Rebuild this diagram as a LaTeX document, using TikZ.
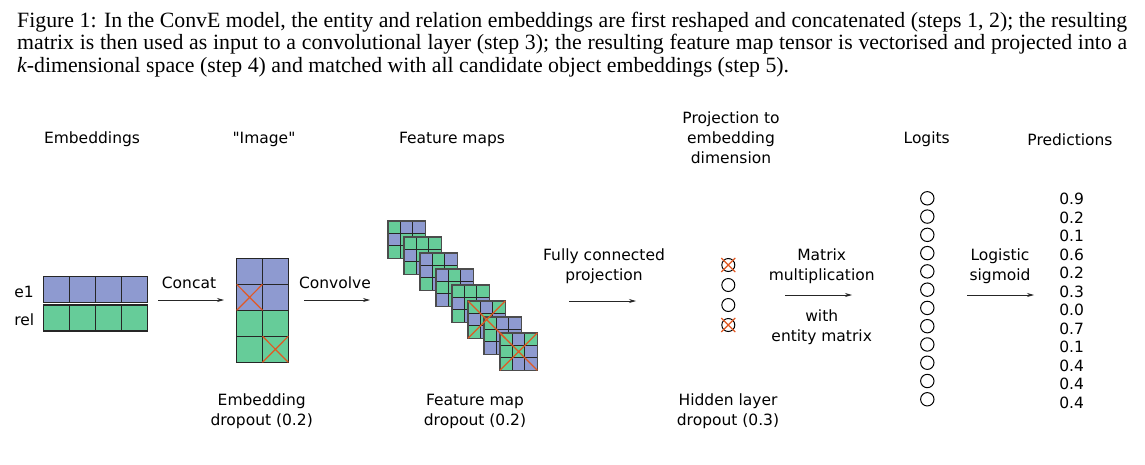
\documentclass[tikz,border=0pt]{standalone}
\usepackage{fontspec}
\setmainfont{DejaVu Sans}[Ligatures=TeXOff]
\newfontfamily\capfont{Liberation Serif}
\usetikzlibrary{arrows.meta}
\definecolor{eblue}{RGB}{142,154,208}
\definecolor{egreen}{RGB}{102,204,153}
\definecolor{dropx}{RGB}{226,88,34}
\begin{document}
\begin{tikzpicture}[x=1pt,y=-1pt,
  lbl/.style={font=\fontsize{15.5}{20}\selectfont, inner sep=0pt, align=center, anchor=base},
  captxt/.style={font=\capfont\fontsize{21.8}{22}\selectfont, inner sep=0pt, anchor=base west},
  flow/.style={draw=black!85, line width=0.7pt, -{Stealth[length=7pt,width=4pt]}},
  cellb/.style={draw=black!85, line width=1.1pt, fill=eblue},
  cellg/.style={draw=black!85, line width=1.1pt, fill=egreen},
  xmark/.style={draw=dropx, line width=1.2pt},
  unit/.style={circle, draw=black, line width=1pt, minimum size=13pt, inner sep=0pt},
]
\fill[white] (0,0) rectangle (1145,464);
\useasboundingbox (0,0) rectangle (1145,464);

% caption
\node[captxt] (c1) at (17,27) {\makebox[1110pt][s]{Figure 1: In the ConvE model, the entity and relation embeddings are first reshaped and concatenated (steps 1, 2); the resulting}};
\node[captxt] (c2) at (17,49.5) {\makebox[1110pt][s]{matrix is then used as input to a convolutional layer (step 3); the resulting feature map tensor is vectorised and projected into a}};
\node[captxt] (c3) at (17,72) {{\itshape k}-dimensional space (step 4) and matched with all candidate object embeddings (step 5).};

% titles
\node[lbl] (temb) at (92,143) {Embeddings};
\node[lbl] (timg) at (264,143) {"Image"};
\node[lbl] (tfm) at (452,143) {Feature maps};
\node[lbl] (tproj) at (731,163) {Projection to\\embedding\\dimension};
\node[lbl] (tlog) at (926.7,143) {Logits};
\node[lbl] (tpred) at (1070,145) {Predictions};

% embeddings
\node[lbl] (le1) at (24,297) {e1};
\node[lbl] (lrel) at (24.3,325) {rel};
\foreach \i in {0,...,3} {
  \draw[cellb] (43.3+26.1*\i,276.7) rectangle ++(26.1,26);
  \draw[cellg] (43.3+26.1*\i,305) rectangle ++(26.1,26);
}

% concat
\coordinate (a1s) at (158,300);
\coordinate (a1e) at (224,300);
\draw[flow] (a1s) -- (a1e);
\node[lbl] (lconcat) at (189,288) {Concat};

% image
\foreach \r/\c in {0/b,1/b,2/g,3/g} {
  \foreach \j in {0,1} {
    \draw[cell\c] (236.7+25.8*\j,258.3+26*\r) rectangle ++(25.8,26);
  }
}
\draw[xmark] (236.7,284.3) -- (262.5,310.3) (262.5,284.3) -- (236.7,310.3);
\draw[xmark] (262.5,336.3) -- (288.3,362.3) (288.3,336.3) -- (262.5,362.3);
\node[lbl] (ledrop) at (261.7,425.3) {Embedding\\dropout (0.2)};

% convolve
\coordinate (a2s) at (304,300);
\coordinate (a2e) at (370,300);
\draw[flow] (a2s) -- (a2e);
\node[lbl] (lconv) at (335,288) {Convolve};

% feature maps
\def\cs{12.43}
\foreach \i/\p in {0/{g,b,b,b,g,g,g,g,b},1/{g,g,g,b,g,g,g,b,g},2/{b,g,b,b,g,g,g,b,g},3/{b,g,b,g,g,b,b,g,g},4/{g,g,g,b,g,b,g,b,g},5/{g,b,g,b,g,b,g,b,g},6/{g,b,b,g,b,b,b,b,g},7/{g,b,g,g,g,b,g,b,b}} {
  \foreach \c [count=\k from 0] in \p {
    \pgfmathtruncatemacro{\row}{int(\k/3)}
    \pgfmathtruncatemacro{\col}{mod(\k,3)}
    \draw[cell\c] (388+16*\i+\cs*\col,221+16*\i+\cs*\row) rectangle ++(\cs,\cs);
  }
  \draw[black!70, line width=1.4pt] (388+16*\i,221+16*\i) rectangle ++(3*\cs,3*\cs);
}
\draw[xmark] (468,301) -- ++(37.3,37.3) (505.3,301) -- ++(-37.3,37.3);
\draw[xmark] (500,333) -- ++(37.3,37.3) (537.3,333) -- ++(-37.3,37.3);
\node[lbl] (lfdrop) at (475,425) {Feature map\\dropout (0.2)};

% fully connected
\node[lbl] (lfc) at (604,280) {Fully connected\\projection};
\coordinate (a3s) at (569,301);
\coordinate (a3e) at (636,301);
\draw[flow] (a3s) -- (a3e);

% hidden
\foreach \i/\y in {1/265,2/285,3/305,4/325} {
  \node[unit] (h\i) at (728.3,\y) {};
}
\draw[xmark] ([shift={(-7,-7)}]h1.center) -- ([shift={(7,7)}]h1.center) ([shift={(7,-7)}]h1.center) -- ([shift={(-7,7)}]h1.center);
\draw[xmark] ([shift={(-7,-7)}]h4.center) -- ([shift={(7,7)}]h4.center) ([shift={(7,-7)}]h4.center) -- ([shift={(-7,7)}]h4.center);
\node[lbl] (lhdrop) at (728,425) {Hidden layer\\dropout (0.3)};

% matrix multiplication
\node[lbl] (lmm) at (821.7,280) {Matrix\\multiplication};
\coordinate (a4s) at (785,295);
\coordinate (a4e) at (852,295);
\draw[flow] (a4s) -- (a4e);
\node[lbl] (lwith) at (821.7,341.7) {with\\entity matrix};

% logits
\foreach \i in {0,...,11} {
  \node[unit, minimum size=13.4pt] (l\i) at (927.3,198.3+18.27*\i) {};
}

% sigmoid
\node[lbl] (lsig) at (1000,280) {Logistic\\sigmoid};
\coordinate (a5s) at (967,295);
\coordinate (a5e) at (1034,295);
\draw[flow] (a5s) -- (a5e);

% predictions
\foreach \v [count=\i from 0] in {0.9,0.2,0.1,0.6,0.2,0.3,0.0,0.7,0.1,0.4,0.4,0.4} {
  \node[lbl] (p\i) at (1071.7,204.7+18.5*\i) {\v};
}
\end{tikzpicture}
\end{document}
